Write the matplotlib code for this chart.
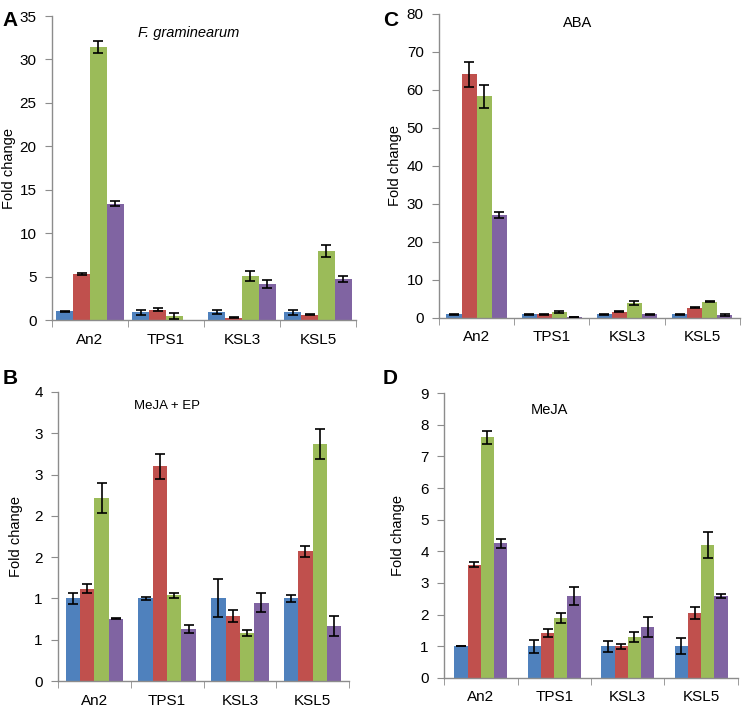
import numpy as np
import matplotlib
matplotlib.use("Agg")
import matplotlib.pyplot as plt

plt.rcParams['font.family'] = ['Liberation Sans', 'DejaVu Sans']

genes = ["An2", "TPS1", "KSL3", "KSL5"]
colors = ["#4F81BD", "#C0504D", "#9BBB59", "#8064A2"]

# panel A: F. graminearum (rows = series, cols = genes)
a_vals = [[1.0, 0.9, 0.9, 0.9],
          [5.3, 1.2, 0.25, 0.6],
          [31.4, 0.5, 5.1, 7.95],
          [13.4, np.nan, 4.15, 4.75]]
a_err = [[0.05, 0.3, 0.2, 0.3],
         [0.15, 0.2, 0.05, 0.05],
         [0.7, 0.35, 0.55, 0.7],
         [0.3, 0.0, 0.5, 0.35]]

# panel C: ABA
c_vals = [[1.0, 1.0, 1.0, 1.0],
          [64.1, 1.0, 1.6, 2.7],
          [58.3, 1.5, 4.0, 4.3],
          [27.1, 0.3, 1.0, 0.8]]
c_err = [[0.1, 0.1, 0.1, 0.1],
         [3.2, 0.1, 0.15, 0.2],
         [3.1, 0.25, 0.6, 0.2],
         [0.7, 0.05, 0.15, 0.35]]

# panel B: MeJA + EP
b_vals = [[1.0, 1.0, 1.0, 1.0],
          [1.12, 2.6, 0.79, 1.57],
          [2.22, 1.04, 0.58, 2.87],
          [0.755, 0.63, 0.95, 0.67]]
b_err = [[0.07, 0.015, 0.23, 0.04],
         [0.05, 0.15, 0.07, 0.07],
         [0.18, 0.03, 0.04, 0.18],
         [0.01, 0.05, 0.12, 0.12]]

# panel D: MeJA
d_vals = [[1.0, 1.0, 1.0, 1.0],
          [3.58, 1.42, 1.0, 2.05],
          [7.6, 1.9, 1.3, 4.2],
          [4.25, 2.6, 1.6, 2.6]]
d_err = [[0.0, 0.2, 0.17, 0.25],
         [0.07, 0.12, 0.08, 0.2],
         [0.2, 0.15, 0.15, 0.4],
         [0.15, 0.28, 0.32, 0.06]]

b_ticks = [0, 0.5, 1.0, 1.5, 2.0, 2.5, 3.0, 3.5]
b_labels = ["0", "1", "1", "2", "2", "3", "3", "4"]

axis_gray = "#8c8c8c"


def draw_panel(ax, vals, errs, width, ymax, ystep, title, italic=False,
               title_xy=(0.5, 0.95), title_size=10.5):
    x = np.arange(len(genes))
    n = len(vals)
    for i in range(n):
        pos = x + (i - (n - 1) / 2) * width
        ax.bar(pos, vals[i], width=width, color=colors[i], edgecolor='none',
               zorder=2)
        ax.errorbar(pos, vals[i], yerr=errs[i], fmt='none', ecolor='black',
                    elinewidth=1.2, capsize=3.5, capthick=1.2, zorder=3)
    ax.set_xlim(-0.5, len(genes) - 0.5)
    ax.set_ylim(0, ymax)
    ax.set_yticks(np.arange(0, ymax + ystep / 2, ystep))
    ax.set_xticks(x)
    ax.set_xticklabels(genes, fontsize=11)
    ax.set_xticks(np.arange(-0.5, len(genes)), minor=True)
    ax.tick_params(axis='x', which='major', length=0, pad=9)
    ax.tick_params(axis='x', which='minor', length=5, color=axis_gray)
    ax.tick_params(axis='y', length=5, color=axis_gray, labelsize=11,
                   pad=6)
    for s in ['top', 'right']:
        ax.spines[s].set_visible(False)
    for s in ['left', 'bottom']:
        ax.spines[s].set_color(axis_gray)
        ax.spines[s].set_linewidth(1.0)
    ax.set_ylabel("Fold change", fontsize=10.5)
    ax.text(title_xy[0], title_xy[1], title, transform=ax.transAxes,
            ha='center', va='center', fontsize=title_size,
            style='italic' if italic else 'normal')


fig = plt.figure(figsize=(7.42, 7.06), dpi=100)

ax_a = fig.add_axes([0.0701, 0.5467, 0.4097, 0.4306])
draw_panel(ax_a, a_vals, a_err, 0.222, 35, 5, "F. graminearum", italic=True,
           title_xy=(0.45, 0.945))
ax_a.yaxis.set_label_coords(-0.12, 0.5)

ax_c = fig.add_axes([0.5916, 0.5496, 0.4054, 0.4306])
draw_panel(ax_c, c_vals, c_err, 0.2, 80, 10, "ABA",
           title_xy=(0.46, 0.97))
ax_c.yaxis.set_label_coords(-0.123, 0.5)

ax_b = fig.add_axes([0.0782, 0.0354, 0.3922, 0.4094])
draw_panel(ax_b, b_vals, b_err, 0.197, 3.5, 0.5, "MeJA + EP",
           title_xy=(0.375, 0.95), title_size=9.5)
ax_b.set_yticks(b_ticks)
ax_b.set_yticklabels(b_labels)
ax_b.yaxis.set_label_coords(-0.12, 0.5)

ax_d = fig.add_axes([0.5984, 0.0397, 0.3962, 0.4036])
draw_panel(ax_d, d_vals, d_err, 0.18, 9, 1, "MeJA",
           title_xy=(0.36, 0.94))
ax_d.yaxis.set_label_coords(-0.133, 0.5)

fig.text(0.004, 0.984, "A", fontsize=15, fontweight='bold', va='top')
fig.text(0.516, 0.984, "C", fontsize=15, fontweight='bold', va='top')
fig.text(0.004, 0.478, "B", fontsize=15, fontweight='bold', va='top')
fig.text(0.516, 0.478, "D", fontsize=15, fontweight='bold', va='top')

fig.savefig("out.png", dpi=100)
